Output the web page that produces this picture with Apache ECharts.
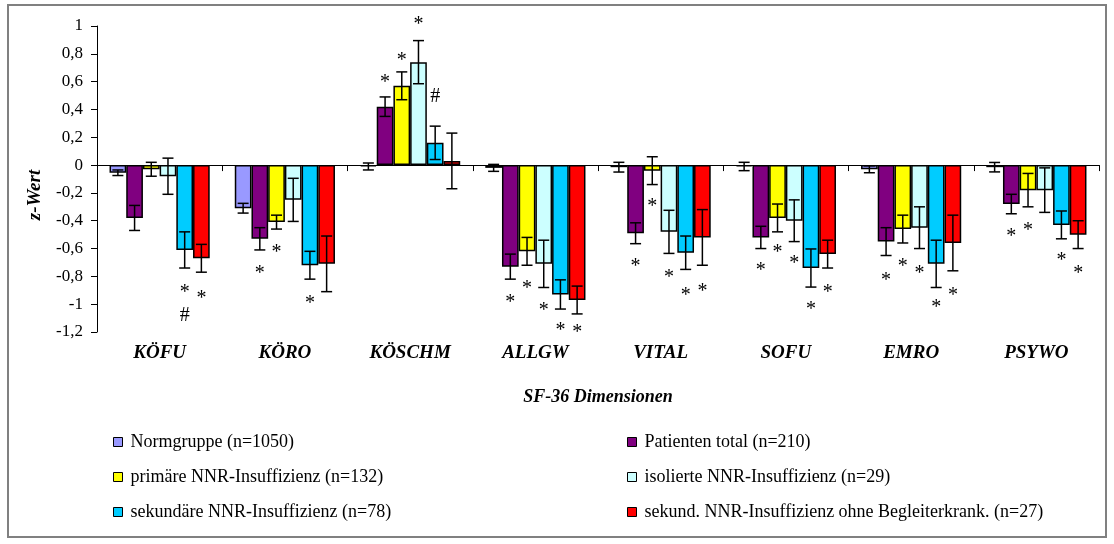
<!DOCTYPE html>
<html><head><meta charset="utf-8">
<script src="https://cdn.jsdelivr.net/npm/echarts@6/dist/echarts.min.js"></script>
<style>html,body{margin:0;padding:0;background:#fff}#c{width:1114px;height:544px}</style>
</head><body><div id="c"></div>
<script>
const categories = ['KÖFU','KÖRO','KÖSCHM','ALLGW','VITAL','SOFU','EMRO','PSYWO'];
const seriesNames = ['Normgruppe (n=1050)','Patienten total (n=210)','primäre NNR-Insuffizienz (n=132)','isolierte NNR-Insuffizienz (n=29)','sekundäre NNR-Insuffizienz (n=78)','sekund. NNR-Insuffizienz ohne Begleiterkrank. (n=27)'];
const yTicks = [-1.2,-1,-0.8,-0.6,-0.4,-0.2,0,0.2,0.4,0.6,0.8,1];

const normgruppe = [-0.055,-0.31,-0.01,-0.02,-0.015,-0.01,-0.03,-0.015];
const normErr    = [0.02,0.035,0.025,0.025,0.035,0.03,0.025,0.034];
const patienten  = [-0.38,-0.53,0.42,-0.73,-0.49,-0.52,-0.55,-0.28];
const patErr     = [0.09,0.08,0.07,0.09,0.075,0.08,0.1,0.07];
const primaer    = [-0.03,-0.41,0.57,-0.62,-0.04,-0.38,-0.46,-0.18];
const primErr    = [0.05,0.05,0.1,0.1,0.1,0.1,0.1,0.12];
const isoliert   = [-0.08,-0.25,0.74,-0.71,-0.48,-0.4,-0.45,-0.18];
const isoErr     = [0.13,0.155,0.155,0.17,0.155,0.15,0.15,0.16];
const sekundaer  = [-0.61,-0.72,0.16,-0.93,-0.63,-0.74,-0.71,-0.43];
const sekErr     = [0.13,0.1,0.12,0.105,0.12,0.137,0.17,0.1];
const ohne       = [-0.67,-0.71,0.03,-0.97,-0.52,-0.64,-0.56,-0.5];
const ohneErr    = [0.1,0.2,0.2,0.1,0.2,0.1,0.2,0.1];

// significance marks: [category index, y value, text]
const annotPatienten = [[1,-0.75,'*'],[2,0.62,'*'],[3,-0.96,'*'],[4,-0.705,'*'],[5,-0.73,'*'],[6,-0.8,'*'],[7,-0.49,'*']];
const annotPrimaer   = [[1,-0.6,'*'],[2,0.78,'*'],[3,-0.86,'*'],[4,-0.27,'*'],[5,-0.6,'*'],[6,-0.7,'*'],[7,-0.44,'*']];
const annotIsoliert  = [[2,1.04,'*'],[3,-1.02,'*'],[4,-0.78,'*'],[5,-0.68,'*'],[6,-0.75,'*']];
const annotSekundaer = [[0,-0.89,'*'],[0,-1.08,'#'],[1,-0.97,'*'],[2,0.49,'#'],[3,-1.16,'*'],[4,-0.91,'*'],[5,-1.01,'*'],[6,-1.0,'*'],[7,-0.66,'*']];
const annotOhne      = [[0,-0.935,'*'],[3,-1.18,'*'],[4,-0.88,'*'],[5,-0.89,'*'],[6,-0.91,'*'],[7,-0.75,'*']];

const FONT = '"Liberation Serif", "Times New Roman", serif';
const colors = ['#9999FF','#800080','#FFFF00','#CCFFFF','#00CCFF','#FF0000'];
const values = [normgruppe, patienten, primaer, isoliert, sekundaer, ohne];
const errors = [normErr, patErr, primErr, isoErr, sekErr, ohneErr];
const annots = [[], annotPatienten, annotPrimaer, annotIsoliert, annotSekundaer, annotOhne];
const N = values.length;

function barX(api, s, ci, v) {
  const w = api.size([1, 0])[0];
  const bw = w * 0.8 / N;
  const p = api.coord([ci, v]);
  return p[0] - w * 0.4 + bw * (s + 0.5);
}

const series = [];
values.forEach((vals, s) => {
  series.push({
    name: seriesNames[s], type: 'bar', xAxisIndex: 0, data: vals,
    barGap: '0%', barCategoryGap: '20%',
    itemStyle: { color: colors[s], borderColor: '#000', borderWidth: 1.5 },
    emphasis: { disabled: true }, z: 2
  });
});
values.forEach((vals, s) => {
  series.push({
    name: 'err' + s, type: 'custom', xAxisIndex: 0, clip: false, z: 5,
    data: vals.map((v, i) => [i, v, errors[s][i]]),
    renderItem: (params, api) => {
      const ci = api.value(0), v = api.value(1), e = api.value(2);
      const x = barX(api, s, ci, v);
      const yt = api.coord([ci, v + e])[1], yb = api.coord([ci, v - e])[1];
      const st = { stroke: '#000', lineWidth: 1.5 };
      const cap = 5.5;
      return { type: 'group', children: [
        { type: 'line', shape: { x1: x, y1: yt, x2: x, y2: yb }, style: st },
        { type: 'line', shape: { x1: x - cap, y1: yt, x2: x + cap, y2: yt }, style: st },
        { type: 'line', shape: { x1: x - cap, y1: yb, x2: x + cap, y2: yb }, style: st }
      ]};
    }
  });
});
annots.forEach((arr, s) => {
  if (!arr.length) return;
  series.push({
    name: 'sig' + s, type: 'custom', xAxisIndex: 0, clip: false, z: 6,
    data: arr.map(a => [a[0], a[1]]),
    renderItem: (params, api) => {
      const ci = api.value(0), v = api.value(1);
      const x = barX(api, s, ci, v);
      const y = api.coord([ci, v])[1];
      const t = arr[params.dataIndex][2];
      return { type: 'text', x: x, y: y + (t === '*' ? 4 : 0),
        style: { text: t, font: '20px ' + FONT, fill: '#000', align: 'center', verticalAlign: 'middle' } };
    }
  });
});

const legendText = { fontFamily: FONT, fontSize: 18, color: '#000', lineHeight: 20, padding: [0, 0, 0, 3] };
const chart = echarts.init(document.getElementById('c'));
chart.setOption({
  animation: false,
  backgroundColor: '#fff',
  grid: { left: 97, right: 15, top: 26, bottom: 212, containLabel: false, outerBoundsMode: 'none' },
  xAxis: [
    { type: 'category', data: categories, position: 'bottom',
      axisLine: { show: true, onZero: true, lineStyle: { color: '#000', width: 1 } },
      axisTick: { show: true, inside: false, length: 6, lineStyle: { color: '#000', width: 1 } },
      axisLabel: { show: false }, splitLine: { show: false } },
    { type: 'category', data: categories, position: 'bottom',
      axisLine: { show: false, onZero: false }, axisTick: { show: false }, splitLine: { show: false },
      axisLabel: { show: true, margin: 12, color: '#000', fontFamily: FONT, fontSize: 19, fontStyle: 'italic', fontWeight: 'bold' } }
  ],
  yAxis: { type: 'value', min: yTicks[0], max: yTicks[yTicks.length - 1], interval: 0.2,
    axisLine: { show: true, lineStyle: { color: '#000', width: 1 } },
    axisTick: { show: true, inside: false, length: 6, lineStyle: { color: '#000', width: 1 } },
    splitLine: { show: false },
    axisLabel: { margin: 14, color: '#000', fontFamily: FONT, fontSize: 17,
      formatter: v => String(Math.round(v * 10) / 10).replace('.', ',') } },
  legend: [
    { orient: 'vertical', left: 108, top: 427, icon: 'rect', itemWidth: 9, itemHeight: 9, itemGap: 15,
      data: [seriesNames[0], seriesNames[2], seriesNames[4]],
      itemStyle: { borderColor: '#000', borderWidth: 1 }, textStyle: legendText },
    { orient: 'vertical', left: 622, top: 427, icon: 'rect', itemWidth: 9, itemHeight: 9, itemGap: 15,
      data: [seriesNames[1], seriesNames[3], seriesNames[5]],
      itemStyle: { borderColor: '#000', borderWidth: 1 }, textStyle: legendText }
  ],
  graphic: [
    { type: 'rect', shape: { x: 8, y: 5, width: 1098, height: 532 }, style: { fill: 'none', stroke: '#808080', lineWidth: 2 }, silent: true },
    { type: 'text', x: 35, y: 195, rotation: Math.PI / 2,
      style: { text: 'z-Wert', font: 'italic bold 19px ' + FONT, fill: '#000', align: 'center', verticalAlign: 'middle' } },
    { type: 'text', x: 598, y: 397,
      style: { text: 'SF-36 Dimensionen', font: 'italic bold 18px ' + FONT, fill: '#000', align: 'center', verticalAlign: 'middle' } }
  ],
  series: series
});
</script>
</body></html>
